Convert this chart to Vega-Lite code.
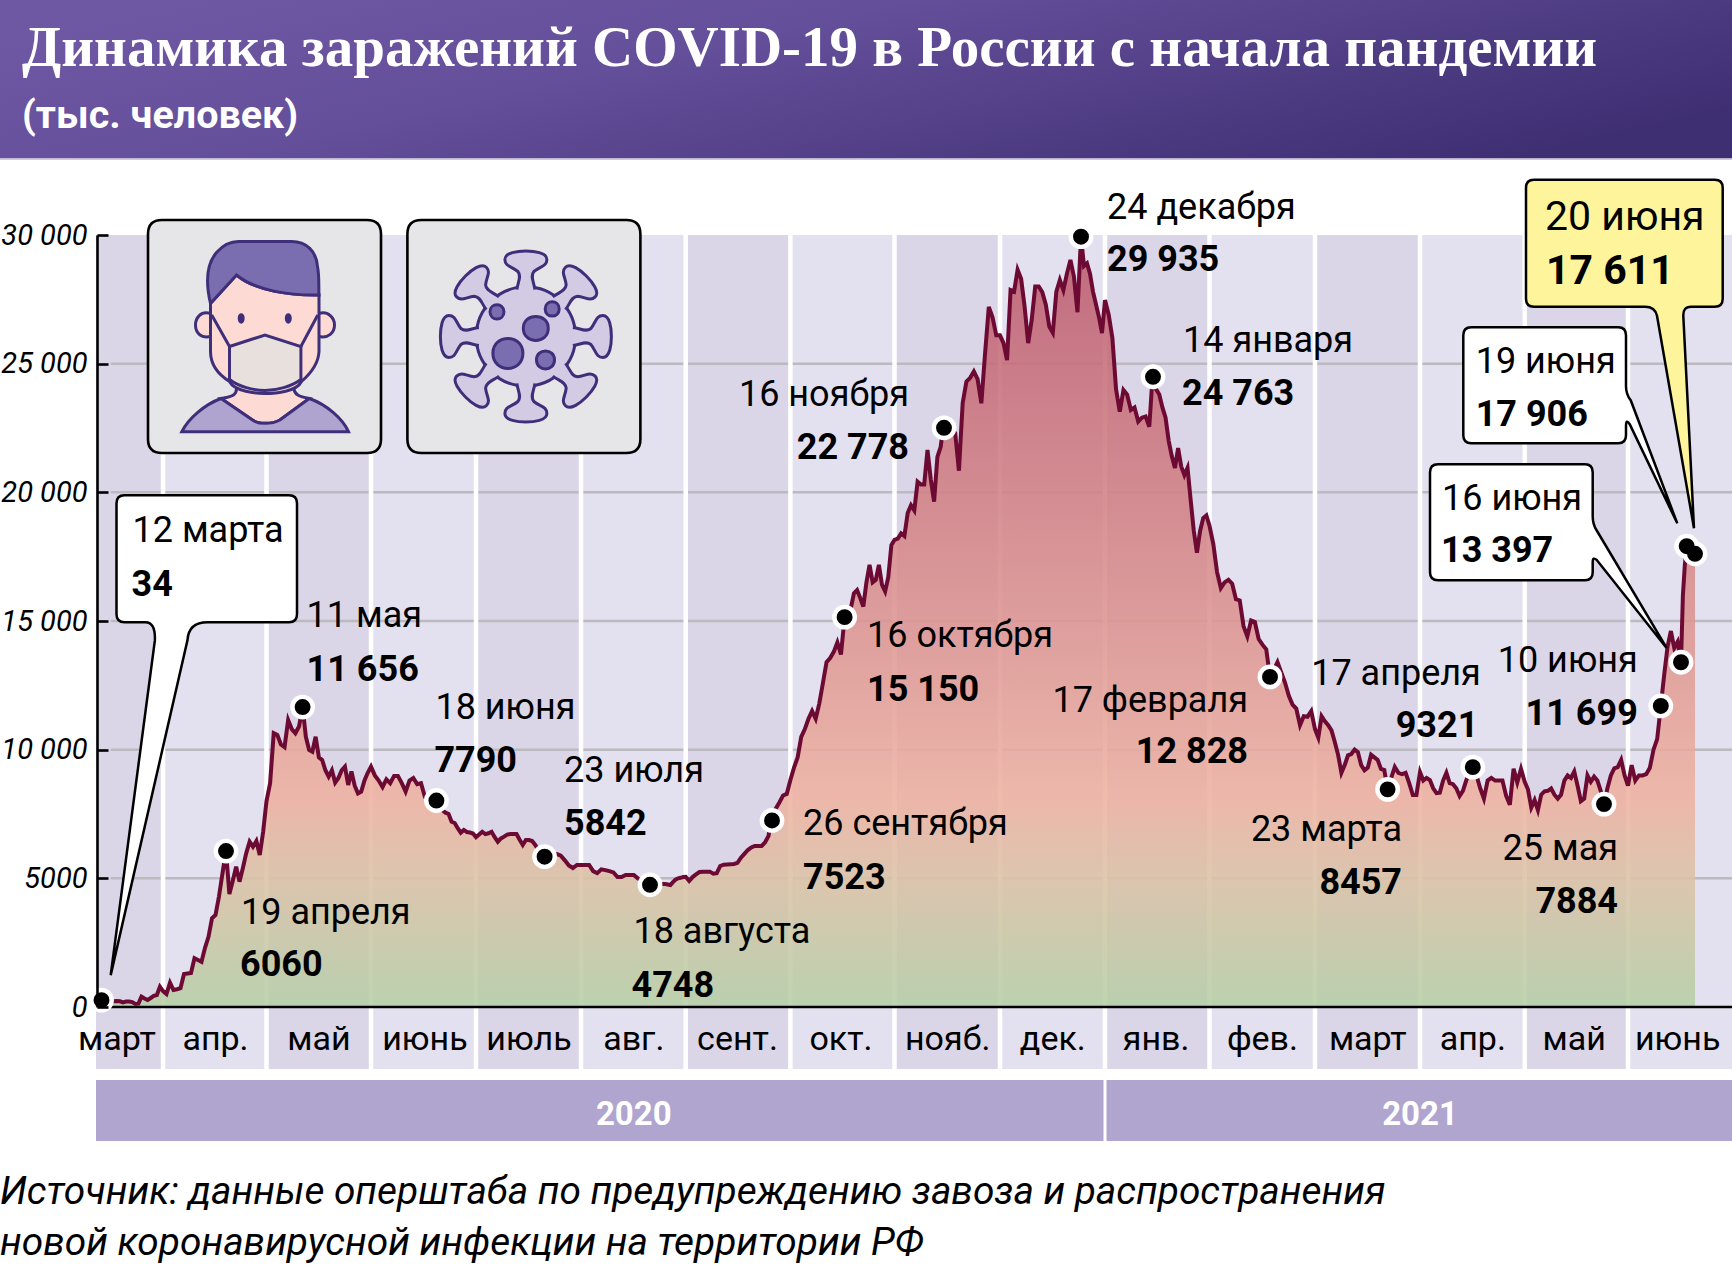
{"$schema":"https://vega.github.io/schema/vega-lite/v6.json","width":1732,"height":1266,"padding":0,"autosize":{"type":"none"},"background":"white",
"data":{"values":[{"decor":1}]},
"config":{"view":{"stroke":null},"axisX":{"disable":true},"text":{"baseline":"alphabetic","align":"left","font":"Roboto","fontSize":36,"color":"black"}},
"datasets":{
"months":[
{"n":0,"start":"2020-03-10","end":"2020-04-01","mid":"2020-03-17","label":"март","tone":"dark"},
{"n":1,"start":"2020-04-01","end":"2020-05-01","mid":"2020-04-16","label":"апр.","tone":"light"},
{"n":2,"start":"2020-05-01","end":"2020-06-01","mid":"2020-05-16","label":"май","tone":"dark"},
{"n":3,"start":"2020-06-01","end":"2020-07-01","mid":"2020-06-15","label":"июнь","tone":"light"},
{"n":4,"start":"2020-07-01","end":"2020-08-01","mid":"2020-07-18","label":"июль","tone":"dark"},
{"n":5,"start":"2020-08-01","end":"2020-09-01","mid":"2020-08-14","label":"авг.","tone":"light"},
{"n":6,"start":"2020-09-01","end":"2020-10-01","mid":"2020-09-16","label":"сент.","tone":"dark"},
{"n":7,"start":"2020-10-01","end":"2020-11-01","mid":"2020-10-15","label":"окт.","tone":"light"},
{"n":8,"start":"2020-11-01","end":"2020-12-01","mid":"2020-11-17","label":"нояб.","tone":"dark"},
{"n":9,"start":"2020-12-01","end":"2021-01-01","mid":"2020-12-16","label":"дек.","tone":"light"},
{"n":10,"start":"2021-01-01","end":"2021-02-01","mid":"2021-01-15","label":"янв.","tone":"dark"},
{"n":11,"start":"2021-02-01","end":"2021-03-01","mid":"2021-02-15","label":"фев.","tone":"light"},
{"n":12,"start":"2021-03-01","end":"2021-04-01","mid":"2021-03-17","label":"март","tone":"dark"},
{"n":13,"start":"2021-04-01","end":"2021-05-01","mid":"2021-04-17","label":"апр.","tone":"light"},
{"n":14,"start":"2021-05-01","end":"2021-06-01","mid":"2021-05-16","label":"май","tone":"dark"},
{"n":15,"start":"2021-06-01","end":"2021-07-01","mid":"2021-06-15","label":"июнь","tone":"light"}],
"years":[{"start":"2020-03-10","end":"2021-01-01","mid":"2020-08-14","label":"2020"},{"start":"2021-01-01","end":"2021-07-01","mid":"2021-04-01","label":"2021"}],
"grid":[{"v":5000},{"v":10000},{"v":15000},{"v":20000},{"v":25000}],
"events":[
{"date":"2020-03-12","label":"12 марта","value":34,"shown":"34"},
{"date":"2020-04-19","label":"19 апреля","value":6060,"shown":"6060"},
{"date":"2020-05-11","label":"11 мая","value":11656,"shown":"11 656"},
{"date":"2020-06-18","label":"18 июня","value":7790,"shown":"7790"},
{"date":"2020-07-23","label":"23 июля","value":5842,"shown":"5842"},
{"date":"2020-08-18","label":"18 августа","value":4748,"shown":"4748"},
{"date":"2020-09-26","label":"26 сентября","value":7523,"shown":"7523"},
{"date":"2020-10-16","label":"16 октября","value":15150,"shown":"15 150"},
{"date":"2020-11-16","label":"16 ноября","value":22778,"shown":"22 778"},
{"date":"2020-12-24","label":"24 декабря","value":29935,"shown":"29 935"},
{"date":"2021-01-14","label":"14 января","value":24763,"shown":"24 763"},
{"date":"2021-02-17","label":"17 февраля","value":12828,"shown":"12 828"},
{"date":"2021-03-23","label":"23 марта","value":8457,"shown":"8457"},
{"date":"2021-04-17","label":"17 апреля","value":9321,"shown":"9321"},
{"date":"2021-05-25","label":"25 мая","value":7884,"shown":"7884"},
{"date":"2021-06-10","label":"10 июня","value":11699,"shown":"11 699"},
{"date":"2021-06-16","label":"16 июня","value":13397,"shown":"13 397"},
{"date":"2021-06-19","label":"19 июня","value":17906,"shown":"17 906"},
{"date":"2021-06-20","label":"20 июня","value":17611,"shown":"17 611"}],
"series":[
{"date":"2020-03-12","cases":34},{"date":"2020-03-13","cases":150},{"date":"2020-03-14","cases":200},{"date":"2020-03-15","cases":210},{"date":"2020-03-16","cases":220},{"date":"2020-03-17","cases":230},{"date":"2020-03-18","cases":220},{"date":"2020-03-19","cases":180},{"date":"2020-03-20","cases":210},{"date":"2020-03-21","cases":215},{"date":"2020-03-22","cases":190},{"date":"2020-03-23","cases":117},{"date":"2020-03-24","cases":130},{"date":"2020-03-25","cases":400},{"date":"2020-03-26","cases":330},{"date":"2020-03-27","cases":270},{"date":"2020-03-28","cases":350},{"date":"2020-03-29","cases":430},{"date":"2020-03-30","cases":466},{"date":"2020-03-31","cases":790},
{"date":"2020-04-01","cases":620},{"date":"2020-04-02","cases":505},{"date":"2020-04-03","cases":945},{"date":"2020-04-04","cases":660},{"date":"2020-04-05","cases":690},{"date":"2020-04-06","cases":730},{"date":"2020-04-07","cases":1280},{"date":"2020-04-08","cases":1300},{"date":"2020-04-09","cases":1320},{"date":"2020-04-10","cases":1900},{"date":"2020-04-11","cases":1830},{"date":"2020-04-12","cases":1760},{"date":"2020-04-13","cases":2300},{"date":"2020-04-14","cases":2730},{"date":"2020-04-15","cases":3450},{"date":"2020-04-16","cases":3575},{"date":"2020-04-17","cases":4300},{"date":"2020-04-18","cases":5200},{"date":"2020-04-19","cases":6060},{"date":"2020-04-20","cases":4390},{"date":"2020-04-21","cases":4900},{"date":"2020-04-22","cases":5450},{"date":"2020-04-23","cases":4870},{"date":"2020-04-24","cases":5400},{"date":"2020-04-25","cases":5980},{"date":"2020-04-26","cases":6425},{"date":"2020-04-27","cases":6230},{"date":"2020-04-28","cases":6450},{"date":"2020-04-29","cases":5910},{"date":"2020-04-30","cases":6800},
{"date":"2020-05-01","cases":8000},{"date":"2020-05-02","cases":8700},{"date":"2020-05-03","cases":10640},{"date":"2020-05-04","cases":10570},{"date":"2020-05-05","cases":10200},{"date":"2020-05-06","cases":10100},{"date":"2020-05-07","cases":11150},{"date":"2020-05-08","cases":10800},{"date":"2020-05-09","cases":10640},{"date":"2020-05-10","cases":10900},{"date":"2020-05-11","cases":11656},{"date":"2020-05-12","cases":10500},{"date":"2020-05-13","cases":9990},{"date":"2020-05-14","cases":9920},{"date":"2020-05-15","cases":10500},{"date":"2020-05-16","cases":9700},{"date":"2020-05-17","cases":9600},{"date":"2020-05-18","cases":9200},{"date":"2020-05-19","cases":8950},{"date":"2020-05-20","cases":9200},{"date":"2020-05-21","cases":8720},{"date":"2020-05-22","cases":8900},{"date":"2020-05-23","cases":9200},{"date":"2020-05-24","cases":9340},{"date":"2020-05-25","cases":8630},{"date":"2020-05-26","cases":9150},{"date":"2020-05-27","cases":8600},{"date":"2020-05-28","cases":8300},{"date":"2020-05-29","cases":8370},{"date":"2020-05-30","cases":8800},{"date":"2020-05-31","cases":9100},
{"date":"2020-06-01","cases":9340},{"date":"2020-06-02","cases":9000},{"date":"2020-06-03","cases":8800},{"date":"2020-06-04","cases":8550},{"date":"2020-06-05","cases":8850},{"date":"2020-06-06","cases":8700},{"date":"2020-06-07","cases":8980},{"date":"2020-06-08","cases":8980},{"date":"2020-06-09","cases":8700},{"date":"2020-06-10","cases":8370},{"date":"2020-06-11","cases":8800},{"date":"2020-06-12","cases":8900},{"date":"2020-06-13","cases":8660},{"date":"2020-06-14","cases":8700},{"date":"2020-06-15","cases":8170},{"date":"2020-06-16","cases":8150},{"date":"2020-06-17","cases":8100},{"date":"2020-06-18","cases":7790},{"date":"2020-06-19","cases":7700},{"date":"2020-06-20","cases":7650},{"date":"2020-06-21","cases":7550},{"date":"2020-06-22","cases":7500},{"date":"2020-06-23","cases":7200},{"date":"2020-06-24","cases":7150},{"date":"2020-06-25","cases":6950},{"date":"2020-06-26","cases":6770},{"date":"2020-06-27","cases":6880},{"date":"2020-06-28","cases":6800},{"date":"2020-06-29","cases":6780},{"date":"2020-06-30","cases":6740},
{"date":"2020-07-01","cases":6600},{"date":"2020-07-02","cases":6700},{"date":"2020-07-03","cases":6810},{"date":"2020-07-04","cases":6720},{"date":"2020-07-05","cases":6750},{"date":"2020-07-06","cases":6810},{"date":"2020-07-07","cases":6600},{"date":"2020-07-08","cases":6420},{"date":"2020-07-09","cases":6550},{"date":"2020-07-10","cases":6620},{"date":"2020-07-11","cases":6700},{"date":"2020-07-12","cases":6720},{"date":"2020-07-13","cases":6720},{"date":"2020-07-14","cases":6720},{"date":"2020-07-15","cases":6500},{"date":"2020-07-16","cases":6295},{"date":"2020-07-17","cases":6490},{"date":"2020-07-18","cases":6490},{"date":"2020-07-19","cases":6450},{"date":"2020-07-20","cases":6300},{"date":"2020-07-21","cases":6100},{"date":"2020-07-22","cases":6000},{"date":"2020-07-23","cases":5842},{"date":"2020-07-24","cases":5900},{"date":"2020-07-25","cases":5950},{"date":"2020-07-26","cases":5950},{"date":"2020-07-27","cases":5880},{"date":"2020-07-28","cases":5700},{"date":"2020-07-29","cases":5500},{"date":"2020-07-30","cases":5400},{"date":"2020-07-31","cases":5520},
{"date":"2020-08-01","cases":5520},{"date":"2020-08-02","cases":5520},{"date":"2020-08-03","cases":5520},{"date":"2020-08-04","cases":5280},{"date":"2020-08-05","cases":5200},{"date":"2020-08-06","cases":5350},{"date":"2020-08-07","cases":5320},{"date":"2020-08-08","cases":5280},{"date":"2020-08-09","cases":5230},{"date":"2020-08-10","cases":5050},{"date":"2020-08-11","cases":5050},{"date":"2020-08-12","cases":5130},{"date":"2020-08-13","cases":5130},{"date":"2020-08-14","cases":5130},{"date":"2020-08-15","cases":5000},{"date":"2020-08-16","cases":4900},{"date":"2020-08-17","cases":4800},{"date":"2020-08-18","cases":4748},{"date":"2020-08-19","cases":4780},{"date":"2020-08-20","cases":4780},{"date":"2020-08-21","cases":4780},{"date":"2020-08-22","cases":4780},{"date":"2020-08-23","cases":4780},{"date":"2020-08-24","cases":4780},{"date":"2020-08-25","cases":4760},{"date":"2020-08-26","cases":4740},{"date":"2020-08-27","cases":4850},{"date":"2020-08-28","cases":4950},{"date":"2020-08-29","cases":5000},{"date":"2020-08-30","cases":5020},{"date":"2020-08-31","cases":5050},
{"date":"2020-09-01","cases":5060},{"date":"2020-09-02","cases":4900},{"date":"2020-09-03","cases":5050},{"date":"2020-09-04","cases":5150},{"date":"2020-09-05","cases":5250},{"date":"2020-09-06","cases":5260},{"date":"2020-09-07","cases":5260},{"date":"2020-09-08","cases":5260},{"date":"2020-09-09","cases":5180},{"date":"2020-09-10","cases":5200},{"date":"2020-09-11","cases":5480},{"date":"2020-09-12","cases":5530},{"date":"2020-09-13","cases":5540},{"date":"2020-09-14","cases":5550},{"date":"2020-09-15","cases":5560},{"date":"2020-09-16","cases":5600},{"date":"2020-09-17","cases":5800},{"date":"2020-09-18","cases":5950},{"date":"2020-09-19","cases":6100},{"date":"2020-09-20","cases":6200},{"date":"2020-09-21","cases":6260},{"date":"2020-09-22","cases":6260},{"date":"2020-09-23","cases":6260},{"date":"2020-09-24","cases":6400},{"date":"2020-09-25","cases":6650},{"date":"2020-09-26","cases":7523},{"date":"2020-09-27","cases":7700},{"date":"2020-09-28","cases":7950},{"date":"2020-09-29","cases":8220},{"date":"2020-09-30","cases":8280},
{"date":"2020-10-01","cases":8820},{"date":"2020-10-02","cases":9300},{"date":"2020-10-03","cases":9700},{"date":"2020-10-04","cases":10500},{"date":"2020-10-05","cases":10800},{"date":"2020-10-06","cases":11200},{"date":"2020-10-07","cases":11500},{"date":"2020-10-08","cases":11200},{"date":"2020-10-09","cases":11800},{"date":"2020-10-10","cases":12590},{"date":"2020-10-11","cases":13400},{"date":"2020-10-12","cases":13560},{"date":"2020-10-13","cases":13800},{"date":"2020-10-14","cases":14170},{"date":"2020-10-15","cases":13700},{"date":"2020-10-16","cases":15150},{"date":"2020-10-17","cases":15100},{"date":"2020-10-18","cases":15500},{"date":"2020-10-19","cases":16080},{"date":"2020-10-20","cases":16200},{"date":"2020-10-21","cases":15900},{"date":"2020-10-22","cases":15560},{"date":"2020-10-23","cases":16500},{"date":"2020-10-24","cases":17180},{"date":"2020-10-25","cases":16500},{"date":"2020-10-26","cases":16600},{"date":"2020-10-27","cases":17180},{"date":"2020-10-28","cases":16400},{"date":"2020-10-29","cases":16150},{"date":"2020-10-30","cases":16700},{"date":"2020-10-31","cases":17950},
{"date":"2020-11-01","cases":18150},{"date":"2020-11-02","cases":18200},{"date":"2020-11-03","cases":18400},{"date":"2020-11-04","cases":18300},{"date":"2020-11-05","cases":19200},{"date":"2020-11-06","cases":19500},{"date":"2020-11-07","cases":19300},{"date":"2020-11-08","cases":20410},{"date":"2020-11-09","cases":20300},{"date":"2020-11-10","cases":20300},{"date":"2020-11-11","cases":21650},{"date":"2020-11-12","cases":20500},{"date":"2020-11-13","cases":19640},{"date":"2020-11-14","cases":21380},{"date":"2020-11-15","cases":21770},{"date":"2020-11-16","cases":22778},{"date":"2020-11-17","cases":22700},{"date":"2020-11-18","cases":22500},{"date":"2020-11-19","cases":22300},{"date":"2020-11-20","cases":20840},{"date":"2020-11-21","cases":23470},{"date":"2020-11-22","cases":24300},{"date":"2020-11-23","cases":24450},{"date":"2020-11-24","cases":24700},{"date":"2020-11-25","cases":24400},{"date":"2020-11-26","cases":23460},{"date":"2020-11-27","cases":25400},{"date":"2020-11-28","cases":27210},{"date":"2020-11-29","cases":26800},{"date":"2020-11-30","cases":26100},
{"date":"2020-12-01","cases":26100},{"date":"2020-12-02","cases":25800},{"date":"2020-12-03","cases":25140},{"date":"2020-12-04","cases":27860},{"date":"2020-12-05","cases":27800},{"date":"2020-12-06","cases":28650},{"date":"2020-12-07","cases":28300},{"date":"2020-12-08","cases":27200},{"date":"2020-12-09","cases":25800},{"date":"2020-12-10","cases":26700},{"date":"2020-12-11","cases":28000},{"date":"2020-12-12","cases":28000},{"date":"2020-12-13","cases":27780},{"date":"2020-12-14","cases":27300},{"date":"2020-12-15","cases":26440},{"date":"2020-12-16","cases":26200},{"date":"2020-12-17","cases":27800},{"date":"2020-12-18","cases":28250},{"date":"2020-12-19","cases":27860},{"date":"2020-12-20","cases":28500},{"date":"2020-12-21","cases":29030},{"date":"2020-12-22","cases":28380},{"date":"2020-12-23","cases":27000},{"date":"2020-12-24","cases":29935},{"date":"2020-12-25","cases":28800},{"date":"2020-12-26","cases":28900},{"date":"2020-12-27","cases":28500},{"date":"2020-12-28","cases":27800},{"date":"2020-12-29","cases":27300},{"date":"2020-12-30","cases":26800},{"date":"2020-12-31","cases":26190},
{"date":"2021-01-01","cases":27470},{"date":"2021-01-02","cases":26900},{"date":"2021-01-03","cases":26000},{"date":"2021-01-04","cases":24000},{"date":"2021-01-05","cases":23130},{"date":"2021-01-06","cases":23980},{"date":"2021-01-07","cases":23800},{"date":"2021-01-08","cases":23200},{"date":"2021-01-09","cases":23300},{"date":"2021-01-10","cases":22750},{"date":"2021-01-11","cases":22900},{"date":"2021-01-12","cases":22950},{"date":"2021-01-13","cases":22550},{"date":"2021-01-14","cases":24763},{"date":"2021-01-15","cases":24000},{"date":"2021-01-16","cases":23800},{"date":"2021-01-17","cases":23300},{"date":"2021-01-18","cases":22900},{"date":"2021-01-19","cases":22000},{"date":"2021-01-20","cases":21400},{"date":"2021-01-21","cases":20950},{"date":"2021-01-22","cases":21720},{"date":"2021-01-23","cases":21000},{"date":"2021-01-24","cases":20670},{"date":"2021-01-25","cases":20950},{"date":"2021-01-26","cases":19700},{"date":"2021-01-27","cases":18500},{"date":"2021-01-28","cases":17650},{"date":"2021-01-29","cases":18500},{"date":"2021-01-30","cases":19000},{"date":"2021-01-31","cases":19100},
{"date":"2021-02-01","cases":18700},{"date":"2021-02-02","cases":18000},{"date":"2021-02-03","cases":16900},{"date":"2021-02-04","cases":16280},{"date":"2021-02-05","cases":16500},{"date":"2021-02-06","cases":16600},{"date":"2021-02-07","cases":16450},{"date":"2021-02-08","cases":15850},{"date":"2021-02-09","cases":15800},{"date":"2021-02-10","cases":14800},{"date":"2021-02-11","cases":14400},{"date":"2021-02-12","cases":15020},{"date":"2021-02-13","cases":14960},{"date":"2021-02-14","cases":14300},{"date":"2021-02-15","cases":14080},{"date":"2021-02-16","cases":13900},{"date":"2021-02-17","cases":12828},{"date":"2021-02-18","cases":13100},{"date":"2021-02-19","cases":13400},{"date":"2021-02-20","cases":13000},{"date":"2021-02-21","cases":12610},{"date":"2021-02-22","cases":12100},{"date":"2021-02-23","cases":11750},{"date":"2021-02-24","cases":11600},{"date":"2021-02-25","cases":10950},{"date":"2021-02-26","cases":11300},{"date":"2021-02-27","cases":11280},{"date":"2021-02-28","cases":11500},
{"date":"2021-03-01","cases":10800},{"date":"2021-03-02","cases":10470},{"date":"2021-03-03","cases":11300},{"date":"2021-03-04","cases":11100},{"date":"2021-03-05","cases":10950},{"date":"2021-03-06","cases":10750},{"date":"2021-03-07","cases":10300},{"date":"2021-03-08","cases":9800},{"date":"2021-03-09","cases":9100},{"date":"2021-03-10","cases":9400},{"date":"2021-03-11","cases":9780},{"date":"2021-03-12","cases":9830},{"date":"2021-03-13","cases":10000},{"date":"2021-03-14","cases":9900},{"date":"2021-03-15","cases":9400},{"date":"2021-03-16","cases":9200},{"date":"2021-03-17","cases":9300},{"date":"2021-03-18","cases":9800},{"date":"2021-03-19","cases":9700},{"date":"2021-03-20","cases":9600},{"date":"2021-03-21","cases":9250},{"date":"2021-03-22","cases":9210},{"date":"2021-03-23","cases":8457},{"date":"2021-03-24","cases":8900},{"date":"2021-03-25","cases":9330},{"date":"2021-03-26","cases":9100},{"date":"2021-03-27","cases":9050},{"date":"2021-03-28","cases":9100},{"date":"2021-03-29","cases":8700},{"date":"2021-03-30","cases":8240},{"date":"2021-03-31","cases":8240},
{"date":"2021-04-01","cases":9130},{"date":"2021-04-02","cases":8800},{"date":"2021-04-03","cases":8900},{"date":"2021-04-04","cases":8820},{"date":"2021-04-05","cases":8500},{"date":"2021-04-06","cases":8310},{"date":"2021-04-07","cases":8330},{"date":"2021-04-08","cases":8800},{"date":"2021-04-09","cases":9100},{"date":"2021-04-10","cases":8700},{"date":"2021-04-11","cases":8660},{"date":"2021-04-12","cases":8500},{"date":"2021-04-13","cases":8200},{"date":"2021-04-14","cases":8400},{"date":"2021-04-15","cases":8800},{"date":"2021-04-16","cases":9100},{"date":"2021-04-17","cases":9321},{"date":"2021-04-18","cases":9000},{"date":"2021-04-19","cases":8500},{"date":"2021-04-20","cases":8100},{"date":"2021-04-21","cases":8800},{"date":"2021-04-22","cases":8900},{"date":"2021-04-23","cases":8800},{"date":"2021-04-24","cases":8800},{"date":"2021-04-25","cases":8800},{"date":"2021-04-26","cases":8200},{"date":"2021-04-27","cases":7860},{"date":"2021-04-28","cases":9260},{"date":"2021-04-29","cases":8730},{"date":"2021-04-30","cases":9250},
{"date":"2021-05-01","cases":8750},{"date":"2021-05-02","cases":8450},{"date":"2021-05-03","cases":7750},{"date":"2021-05-04","cases":8040},{"date":"2021-05-05","cases":7650},{"date":"2021-05-06","cases":8250},{"date":"2021-05-07","cases":8380},{"date":"2021-05-08","cases":8400},{"date":"2021-05-09","cases":8490},{"date":"2021-05-10","cases":8250},{"date":"2021-05-11","cases":8100},{"date":"2021-05-12","cases":8250},{"date":"2021-05-13","cases":8800},{"date":"2021-05-14","cases":9000},{"date":"2021-05-15","cases":8900},{"date":"2021-05-16","cases":9150},{"date":"2021-05-17","cases":8600},{"date":"2021-05-18","cases":8000},{"date":"2021-05-19","cases":8100},{"date":"2021-05-20","cases":9000},{"date":"2021-05-21","cases":8750},{"date":"2021-05-22","cases":8950},{"date":"2021-05-23","cases":8800},{"date":"2021-05-24","cases":8400},{"date":"2021-05-25","cases":7884},{"date":"2021-05-26","cases":8500},{"date":"2021-05-27","cases":9000},{"date":"2021-05-28","cases":9270},{"date":"2021-05-29","cases":9320},{"date":"2021-05-30","cases":9600},{"date":"2021-05-31","cases":9000},
{"date":"2021-06-01","cases":8600},{"date":"2021-06-02","cases":9400},{"date":"2021-06-03","cases":8800},{"date":"2021-06-04","cases":9000},{"date":"2021-06-05","cases":9000},{"date":"2021-06-06","cases":9050},{"date":"2021-06-07","cases":9300},{"date":"2021-06-08","cases":10000},{"date":"2021-06-09","cases":10410},{"date":"2021-06-10","cases":11699},{"date":"2021-06-11","cases":12900},{"date":"2021-06-12","cases":14000},{"date":"2021-06-13","cases":14610},{"date":"2021-06-14","cases":13950},{"date":"2021-06-15","cases":14190},{"date":"2021-06-16","cases":13397},{"date":"2021-06-17","cases":16000},{"date":"2021-06-18","cases":17160},{"date":"2021-06-19","cases":17906},{"date":"2021-06-20","cases":17611}]
},
"layer":[
{"data":{"name":"months"},"mark":{"type":"rect"},"encoding":{
"x":{"field":"start","type":"temporal","scale":{"domainRaw":{"expr":"[toDate('2020-02-01'),toDate('2020-03-10'),toDate('2020-03-12'),toDate('2020-04-01'),toDate('2020-04-19'),toDate('2020-05-01'),toDate('2020-05-11'),toDate('2020-06-01'),toDate('2020-06-18'),toDate('2020-07-01'),toDate('2020-07-23'),toDate('2020-08-01'),toDate('2020-08-18'),toDate('2020-09-01'),toDate('2020-09-26'),toDate('2020-10-01'),toDate('2020-10-16'),toDate('2020-11-01'),toDate('2020-11-16'),toDate('2020-12-01'),toDate('2020-12-24'),toDate('2021-01-01'),toDate('2021-01-14'),toDate('2021-02-01'),toDate('2021-02-17'),toDate('2021-03-01'),toDate('2021-03-23'),toDate('2021-04-01'),toDate('2021-04-17'),toDate('2021-05-01'),toDate('2021-05-25'),toDate('2021-06-01'),toDate('2021-06-10'),toDate('2021-06-16'),toDate('2021-06-19'),toDate('2021-06-20'),toDate('2021-07-01')]"},"range":[0,96,101.5,163,226,266.5,302.6,371,436.4,476,544.6,581,650,685.7,772,790.4,844.6,894.5,944,1000,1081,1105,1153,1209.5,1270,1315,1387.6,1420,1472.8,1524.7,1604,1628,1660.8,1681,1686.7,1695,1733]}},
"x2":{"field":"end"},
"y":{"datum":30000,"type":"quantitative","scale":{"domain":[0,30000],"range":[1007,235],"nice":false,"zero":false},"axis":{"title":null,"orient":"left","offset":-97,"values":[0,5000,10000,15000,20000,25000,30000],"grid":false,"domainColor":"black","domainWidth":2.6,"tickColor":"black","tickWidth":2.6,"tickSize":-11,"labelPadding":21,"labelFont":"Roboto","labelFontStyle":"italic","labelFontSize":29,"labelColor":"black","labelBaseline":"middle","labelExpr":"datum.value>=10000?replace(format(datum.value,','),',',' '):format(datum.value,'d')","zindex":1}},
"y2":{"datum":-2410},
"color":{"field":"tone","type":"nominal","legend":null,"scale":{"domain":["dark","light"],"range":["#dbd5e8","#e3e1ef"]}}}},
{"mark":{"type":"rect","fill":{"x1":0,"y1":0.3,"x2":1,"y2":0.7,"gradient":"linear","stops":[{"offset":0,"color":"#6e57a3"},{"offset":0.35,"color":"#644f9a"},{"offset":1,"color":"#3e2e72"}]}},"encoding":{"x":{"datum":{"year":2020,"month":2,"date":1,"utc":true},"type":"temporal"},"x2":{"datum":{"year":2021,"month":7,"date":1,"utc":true}},"y":{"datum":39133,"type":"quantitative"},"y2":{"datum":32973}}},
{"mark":{"type":"rule","color":"#cfc9e2","strokeWidth":1.5},"encoding":{"x":{"datum":{"year":2020,"month":2,"date":1,"utc":true},"type":"temporal"},"x2":{"datum":{"year":2021,"month":7,"date":1,"utc":true}},"y":{"datum":32940,"type":"quantitative"}}},
{"mark":{"type":"text","text":"Динамика заражений COVID-19 в России с начала пандемии","font":"Liberation Serif","fontWeight":"bold","fontSize":57,"color":"white","dx":22,"dy":-169},"encoding":{"x":{"datum":{"year":2020,"month":2,"date":1,"utc":true},"type":"temporal"},"y":{"datum":30000,"type":"quantitative"}}},
{"mark":{"type":"text","text":"(тыс. человек)","font":"Roboto","fontWeight":"bold","fontSize":39.5,"color":"white","dx":22,"dy":-107},"encoding":{"x":{"datum":{"year":2020,"month":2,"date":1,"utc":true},"type":"temporal"},"y":{"datum":30000,"type":"quantitative"}}},
{"data":{"name":"grid"},"mark":{"type":"rule","color":"#bcbabf","strokeWidth":2.5},"encoding":{"x":{"datum":{"year":2020,"month":3,"date":15,"utc":true},"type":"temporal"},"x2":{"datum":{"year":2021,"month":7,"date":1,"utc":true}},"y":{"field":"v","type":"quantitative"}}},
{"data":{"name":"months"},"transform":[{"filter":"datum.n>0"}],"mark":{"type":"rule","color":"white","strokeWidth":4.5},"encoding":{"x":{"field":"start","type":"temporal"},"y":{"datum":30000,"type":"quantitative"},"y2":{"datum":-2410}}},
{"data":{"name":"months"},"mark":{"type":"text","align":"center","fontSize":34,"dy":43},"encoding":{"x":{"field":"mid","type":"temporal"},"y":{"datum":0,"type":"quantitative"},"text":{"field":"label"}}},
{"data":{"name":"years"},"mark":{"type":"rect","color":"#afa5cf"},"encoding":{"x":{"field":"start","type":"temporal"},"x2":{"field":"end"},"y":{"datum":-2837,"type":"quantitative"},"y2":{"datum":-5207}}},
{"mark":{"type":"rule","color":"white","strokeWidth":3},"encoding":{"x":{"datum":{"year":2021,"month":1,"date":1,"utc":true},"type":"temporal"},"y":{"datum":-2837,"type":"quantitative"},"y2":{"datum":-5207}}},
{"data":{"name":"years"},"mark":{"type":"text","align":"center","fontWeight":"bold","fontSize":33,"color":"white","dy":118},"encoding":{"x":{"field":"mid","type":"temporal"},"y":{"datum":0,"type":"quantitative"},"text":{"field":"label"}}},
{"data":{"name":"series"},"mark":{"type":"area","opacity":0.88,"interpolate":"linear","fill":{"x1":0,"y1":1,"x2":0,"y2":0,"gradient":"linear","stops":[{"offset":0,"color":"#b5cfa6"},{"offset":0.165,"color":"#dbc2a6"},{"offset":0.27,"color":"#eeb2a1"},{"offset":0.48,"color":"#de9793"},{"offset":1,"color":"#bb5a6e"}]}},"encoding":{"x":{"field":"date","type":"temporal"},"y":{"field":"cases","type":"quantitative","stack":false}}},
{"mark":{"type":"rule","color":"black","strokeWidth":2.6},"encoding":{"x":{"datum":{"year":2020,"month":3,"date":10,"utc":true},"type":"temporal"},"x2":{"datum":{"year":2021,"month":7,"date":1,"utc":true}},"y":{"datum":0,"type":"quantitative"}}},
{"data":{"name":"series"},"mark":{"type":"line","color":"#6c0a33","strokeWidth":4,"interpolate":"linear"},"encoding":{"x":{"field":"date","type":"temporal"},"y":{"field":"cases","type":"quantitative"}}},
{"data":{"name":"events"},"encoding":{"x":{"field":"date","type":"temporal"},"y":{"field":"value","type":"quantitative"}},"layer":[
{"transform":[{"filter":"datum.label==='12 марта'"}],"mark":{"type":"point","filled":true,"opacity":1,"size":4,"fill":"white","stroke":"black","strokeWidth":2.5,"shape":"M9.2,-31 L53.4,-366 Q54,-384 44,-384 L23,-384 Q15,-384 15,-392 L15,-503 Q15,-511 23,-511 L187.5,-511 Q195.5,-511 195.5,-503 L195.5,-392 Q195.5,-384 187.5,-384 L106,-384 Q87,-384 86,-366 Z"}},
{"transform":[{"filter":"datum.label==='16 июня'"}],"mark":{"type":"point","filled":true,"opacity":1,"size":4,"fill":"white","stroke":"black","strokeWidth":2.5,"shape":"M-14.4,-14.3 L-84.4,-132 Q-88.3,-138 -88.3,-146 L-88.3,-190 Q-88.3,-198 -96,-198 L-243,-198 Q-251,-198 -251,-190 L-251,-90 Q-251,-82 -243,-82 L-96,-82 Q-88.3,-82 -88.3,-90 L-88.3,-100 Q-88.3,-106 -84,-102 Z"}},
{"transform":[{"filter":"datum.label==='19 июня'"}],"mark":{"type":"point","filled":true,"opacity":1,"size":4,"fill":"white","stroke":"black","strokeWidth":2.5,"shape":"M-9.4,-22.9 L-56,-146 Q-60.7,-152 -60.7,-160 L-60.7,-211 Q-60.7,-219 -68.5,-219 L-215.5,-219 Q-223.4,-219 -223.4,-211 L-223.4,-111 Q-223.4,-103 -215.5,-103 L-68.5,-103 Q-60.7,-103 -60.7,-111 L-60.7,-120 Q-60.7,-128 -57,-122 Z"}},
{"transform":[{"filter":"datum.label==='20 июня'"}],"mark":{"type":"point","filled":true,"opacity":1,"size":4,"fill":"#fdf49c","stroke":"black","strokeWidth":2.5,"shape":"M-1,-25.5 L-38,-238 Q-40,-247 -50,-247 L-161,-247 Q-169,-247 -169,-255 L-169,-366 Q-169,-374 -161,-374 L19.7,-374 Q27.7,-374 27.7,-366 L27.7,-255 Q27.7,-247 19.7,-247 L-4,-247 Q-12,-247 -11.7,-238 Z"}},
{"transform":[{"filter":"indexof(['12 марта','26 сентября','18 июня','16 ноября','14 января'],datum.label)<0"}],"layer":[
{"mark":{"type":"point","filled":true,"opacity":1,"size":616,"color":"white"}},
{"mark":{"type":"point","filled":true,"opacity":1,"size":254,"color":"black"}}]},
{"transform":[{"filter":"datum.label==='12 марта'||datum.label==='18 июня'"}],"encoding":{"yOffset":{"value":-6}},"layer":[
{"mark":{"type":"point","filled":true,"opacity":1,"size":616,"color":"white"}},
{"mark":{"type":"point","filled":true,"opacity":1,"size":254,"color":"black"}}]},
{"transform":[{"filter":"datum.label==='26 сентября'||datum.label==='16 ноября'||datum.label==='14 января'"}],"encoding":{"yOffset":{"value":7}},"layer":[
{"mark":{"type":"point","filled":true,"opacity":1,"size":616,"color":"white"}},
{"mark":{"type":"point","filled":true,"opacity":1,"size":254,"color":"black"}}]},
{"transform":[{"filter":"datum.label==='12 марта'"}],"layer":[{"mark":{"type":"text","dx":31,"dy":-464},"encoding":{"text":{"field":"label"}}},{"mark":{"type":"text","fontWeight":"bold","dx":30,"dy":-410},"encoding":{"text":{"field":"shown"}}}]},
{"transform":[{"filter":"datum.label==='19 апреля'"}],"layer":[{"mark":{"type":"text","dx":15,"dy":73},"encoding":{"text":{"field":"label"}}},{"mark":{"type":"text","fontWeight":"bold","dx":14,"dy":125},"encoding":{"text":{"field":"shown"}}}]},
{"transform":[{"filter":"datum.label==='11 мая'"}],"layer":[{"mark":{"type":"text","dx":4,"dy":-80},"encoding":{"text":{"field":"label"}}},{"mark":{"type":"text","fontWeight":"bold","dx":4,"dy":-26},"encoding":{"text":{"field":"shown"}}}]},
{"transform":[{"filter":"datum.label==='18 июня'"}],"layer":[{"mark":{"type":"text","dx":-1,"dy":-88},"encoding":{"text":{"field":"label"}}},{"mark":{"type":"text","fontWeight":"bold","dx":-2,"dy":-35},"encoding":{"text":{"field":"shown"}}}]},
{"transform":[{"filter":"datum.label==='23 июля'"}],"layer":[{"mark":{"type":"text","dx":19.4,"dy":-74.4},"encoding":{"text":{"field":"label"}}},{"mark":{"type":"text","fontWeight":"bold","dx":19.4,"dy":-22},"encoding":{"text":{"field":"shown"}}}]},
{"transform":[{"filter":"datum.label==='18 августа'"}],"layer":[{"mark":{"type":"text","dx":-16.6,"dy":58},"encoding":{"text":{"field":"label"}}},{"mark":{"type":"text","fontWeight":"bold","dx":-18.5,"dy":112},"encoding":{"text":{"field":"shown"}}}]},
{"transform":[{"filter":"datum.label==='26 сентября'"}],"layer":[{"mark":{"type":"text","dx":31,"dy":22},"encoding":{"text":{"field":"label"}}},{"mark":{"type":"text","fontWeight":"bold","dx":31,"dy":76},"encoding":{"text":{"field":"shown"}}}]},
{"transform":[{"filter":"datum.label==='16 октября'"}],"layer":[{"mark":{"type":"text","dx":22.4,"dy":30},"encoding":{"text":{"field":"label"}}},{"mark":{"type":"text","fontWeight":"bold","dx":22.4,"dy":83.5},"encoding":{"text":{"field":"shown"}}}]},
{"transform":[{"filter":"datum.label==='16 ноября'"}],"layer":[{"mark":{"type":"text","align":"right","dx":-35,"dy":-15},"encoding":{"text":{"field":"label"}}},{"mark":{"type":"text","align":"right","fontWeight":"bold","dx":-35,"dy":38},"encoding":{"text":{"field":"shown"}}}]},
{"transform":[{"filter":"datum.label==='24 декабря'"}],"layer":[{"mark":{"type":"text","dx":26,"dy":-18},"encoding":{"text":{"field":"label"}}},{"mark":{"type":"text","fontWeight":"bold","dx":26,"dy":34},"encoding":{"text":{"field":"shown"}}}]},
{"transform":[{"filter":"datum.label==='14 января'"}],"layer":[{"mark":{"type":"text","dx":30,"dy":-18},"encoding":{"text":{"field":"label"}}},{"mark":{"type":"text","fontWeight":"bold","dx":29,"dy":35},"encoding":{"text":{"field":"shown"}}}]},
{"transform":[{"filter":"datum.label==='17 февраля'"}],"layer":[{"mark":{"type":"text","align":"right","dx":-22,"dy":35},"encoding":{"text":{"field":"label"}}},{"mark":{"type":"text","align":"right","fontWeight":"bold","dx":-22,"dy":86},"encoding":{"text":{"field":"shown"}}}]},
{"transform":[{"filter":"datum.label==='23 марта'"}],"layer":[{"mark":{"type":"text","align":"right","dx":14.4,"dy":52},"encoding":{"text":{"field":"label"}}},{"mark":{"type":"text","align":"right","fontWeight":"bold","dx":14.4,"dy":105},"encoding":{"text":{"field":"shown"}}}]},
{"transform":[{"filter":"datum.label==='17 апреля'"}],"layer":[{"mark":{"type":"text","align":"right","dx":8,"dy":-82},"encoding":{"text":{"field":"label"}}},{"mark":{"type":"text","align":"right","fontWeight":"bold","dx":5.5,"dy":-30},"encoding":{"text":{"field":"shown"}}}]},
{"transform":[{"filter":"datum.label==='25 мая'"}],"layer":[{"mark":{"type":"text","align":"right","dx":14,"dy":55.5},"encoding":{"text":{"field":"label"}}},{"mark":{"type":"text","align":"right","fontWeight":"bold","dx":14,"dy":109},"encoding":{"text":{"field":"shown"}}}]},
{"transform":[{"filter":"datum.label==='10 июня'"}],"layer":[{"mark":{"type":"text","align":"right","dx":-23,"dy":-34},"encoding":{"text":{"field":"label"}}},{"mark":{"type":"text","align":"right","fontWeight":"bold","dx":-23,"dy":19.5},"encoding":{"text":{"field":"shown"}}}]},
{"transform":[{"filter":"datum.label==='16 июня'"}],"layer":[{"mark":{"type":"text","dx":-239,"dy":-152},"encoding":{"text":{"field":"label"}}},{"mark":{"type":"text","fontWeight":"bold","dx":-240,"dy":-100},"encoding":{"text":{"field":"shown"}}}]},
{"transform":[{"filter":"datum.label==='19 июня'"}],"layer":[{"mark":{"type":"text","dx":-211,"dy":-173},"encoding":{"text":{"field":"label"}}},{"mark":{"type":"text","fontWeight":"bold","dx":-211,"dy":-120},"encoding":{"text":{"field":"shown"}}}]},
{"transform":[{"filter":"datum.label==='20 июня'"}],"layer":[{"mark":{"type":"text","fontSize":41,"dx":-150,"dy":-324},"encoding":{"text":{"field":"label"}}},{"mark":{"type":"text","fontSize":41,"fontWeight":"bold","dx":-149,"dy":-270},"encoding":{"text":{"field":"shown"}}}]}
]},
{"encoding":{"x":{"datum":{"year":2020,"month":5,"date":1,"utc":true},"type":"temporal"},"y":{"datum":26056,"type":"quantitative"}},"layer":[
{"mark":{"type":"point","filled":true,"opacity":1,"size":4,"fill":"#e6e6e8","stroke":"black","strokeWidth":2.6,"shape":"M-104.5,-116.5 L100.5,-116.5 Q114.5,-116.5 114.5,-102.5 L114.5,102.5 Q114.5,116.5 100.5,116.5 L-104.5,116.5 Q-118.5,116.5 -118.5,102.5 L-118.5,-102.5 Q-118.5,-116.5 -104.5,-116.5 Z"}},
{"mark":{"type":"point","filled":true,"opacity":1,"size":4,"fill":"#fddad3","stroke":"#3f2f7b","strokeWidth":3,"shape":"M-56,-23 C-66,-26 -71,-18 -71,-11.5 C-71,-4 -66,2 -56,0 M52.5,-23 C62,-26 68,-18 68,-11.5 C68,-4 62,2 52.5,0"}},
{"mark":{"type":"point","filled":true,"opacity":1,"size":4,"fill":"#fddad3","stroke":"#3f2f7b","strokeWidth":3,"shape":"M-30,52 C-30,58 -33,60 -45.5,62 L-14,83.5 C-8,88 5,88 13.4,83.5 L42.8,62 C32,60 28,58 27.3,52 Z"}},
{"mark":{"type":"point","filled":true,"opacity":1,"size":4,"fill":"#aea4cf","stroke":"#3f2f7b","strokeWidth":3,"shape":"M-84.7,95.2 C-78,82 -62,68 -45.5,62 L-14,83.5 C-8,88 5,88 13.4,83.5 L42.8,62 C60,68 76,82 82,95.2 Z"}},
{"mark":{"type":"point","filled":true,"opacity":1,"size":4,"fill":"#fddad3","stroke":"#3f2f7b","strokeWidth":3,"shape":"M-56,-33 L-56,15 C-56,30 -45,40 -37,45 C-32,55 -10,57 -2,57 C10,57 30,55 35,45 C43,38 52,28 52.5,15 L52.5,-41.5 C25,-41 -10,-45 -30,-61.5 Z"}},
{"mark":{"type":"point","filled":true,"opacity":1,"size":4,"fill":"#7a6db0","stroke":"#3f2f7b","strokeWidth":3,"shape":"M-56,-33 C-60,-50 -62,-70 -50,-84 C-43,-92 -36,-95 -28,-95 L25,-95 C40,-95 50,-85 51,-70 C53,-60 52,-50 52.5,-41.5 C25,-41 -10,-45 -30,-61.5 Z"}},
{"mark":{"type":"point","filled":true,"opacity":1,"size":4,"fill":"#e8e0dd","stroke":"#3f2f7b","strokeWidth":3,"shape":"M-37,10 L-1.5,-1.5 L34.4,10 L34.4,43 C25,50 10,54 -1.5,54 C-13,54 -28,50 -37,43 Z"}},
{"mark":{"type":"point","filled":false,"opacity":1,"size":4,"stroke":"#3f2f7b","strokeWidth":3,"shape":"M-54.8,-21.5 L-37,10 M51.3,-21.5 L34.4,10"}},
{"mark":{"type":"point","filled":true,"opacity":1,"size":4,"fill":"#3f2f7b","shape":"M-28.8,-18.2 C-28.8,-25 -21.8,-25 -21.8,-18.2 C-21.8,-11 -28.8,-11 -28.8,-18.2 Z M18.3,-18.2 C18.3,-25 25.3,-25 25.3,-18.2 C25.3,-11 18.3,-11 18.3,-18.2 Z"}}
]},
{"encoding":{"x":{"datum":{"year":2020,"month":7,"date":17,"utc":true},"type":"temporal"},"y":{"datum":26056,"type":"quantitative"}},"layer":[
{"mark":{"type":"point","filled":true,"opacity":1,"size":4,"fill":"#e6e6e8","stroke":"black","strokeWidth":2.6,"shape":"M-104.5,-116.5 L100.5,-116.5 Q114.5,-116.5 114.5,-102.5 L114.5,102.5 Q114.5,116.5 100.5,116.5 L-104.5,116.5 Q-118.5,116.5 -118.5,102.5 L-118.5,-102.5 Q-118.5,-116.5 -104.5,-116.5 Z"}},
{"mark":{"type":"point","filled":true,"opacity":1,"size":9852,"fill":"#d3cbe4","stroke":"#3f2f7b","strokeWidth":3,"shape":"circle"}},
{"mark":{"type":"point","filled":true,"opacity":1,"size":4,"angle":0,"fill":"#d3cbe4","stroke":"#3f2f7b","strokeWidth":3,"shape":"M-9,-47 C-8,-55 -4,-60 -8,-65 C-14,-70 -21,-70 -21,-77 C-21,-84 -8,-85.5 0,-85.5 C8,-85.5 21,-84 21,-77 C21,-70 14,-70 8,-65 C4,-60 8,-55 9,-47"}},
{"mark":{"type":"point","filled":true,"opacity":1,"size":4,"angle":45,"fill":"#d3cbe4","stroke":"#3f2f7b","strokeWidth":3,"shape":"M-9,-47 C-8,-55 -4,-60 -8,-65 C-14,-70 -21,-70 -21,-77 C-21,-84 -8,-85.5 0,-85.5 C8,-85.5 21,-84 21,-77 C21,-70 14,-70 8,-65 C4,-60 8,-55 9,-47"}},
{"mark":{"type":"point","filled":true,"opacity":1,"size":4,"angle":90,"fill":"#d3cbe4","stroke":"#3f2f7b","strokeWidth":3,"shape":"M-9,-47 C-8,-55 -4,-60 -8,-65 C-14,-70 -21,-70 -21,-77 C-21,-84 -8,-85.5 0,-85.5 C8,-85.5 21,-84 21,-77 C21,-70 14,-70 8,-65 C4,-60 8,-55 9,-47"}},
{"mark":{"type":"point","filled":true,"opacity":1,"size":4,"angle":135,"fill":"#d3cbe4","stroke":"#3f2f7b","strokeWidth":3,"shape":"M-9,-47 C-8,-55 -4,-60 -8,-65 C-14,-70 -21,-70 -21,-77 C-21,-84 -8,-85.5 0,-85.5 C8,-85.5 21,-84 21,-77 C21,-70 14,-70 8,-65 C4,-60 8,-55 9,-47"}},
{"mark":{"type":"point","filled":true,"opacity":1,"size":4,"angle":180,"fill":"#d3cbe4","stroke":"#3f2f7b","strokeWidth":3,"shape":"M-9,-47 C-8,-55 -4,-60 -8,-65 C-14,-70 -21,-70 -21,-77 C-21,-84 -8,-85.5 0,-85.5 C8,-85.5 21,-84 21,-77 C21,-70 14,-70 8,-65 C4,-60 8,-55 9,-47"}},
{"mark":{"type":"point","filled":true,"opacity":1,"size":4,"angle":225,"fill":"#d3cbe4","stroke":"#3f2f7b","strokeWidth":3,"shape":"M-9,-47 C-8,-55 -4,-60 -8,-65 C-14,-70 -21,-70 -21,-77 C-21,-84 -8,-85.5 0,-85.5 C8,-85.5 21,-84 21,-77 C21,-70 14,-70 8,-65 C4,-60 8,-55 9,-47"}},
{"mark":{"type":"point","filled":true,"opacity":1,"size":4,"angle":270,"fill":"#d3cbe4","stroke":"#3f2f7b","strokeWidth":3,"shape":"M-9,-47 C-8,-55 -4,-60 -8,-65 C-14,-70 -21,-70 -21,-77 C-21,-84 -8,-85.5 0,-85.5 C8,-85.5 21,-84 21,-77 C21,-70 14,-70 8,-65 C4,-60 8,-55 9,-47"}},
{"mark":{"type":"point","filled":true,"opacity":1,"size":4,"angle":315,"fill":"#d3cbe4","stroke":"#3f2f7b","strokeWidth":3,"shape":"M-9,-47 C-8,-55 -4,-60 -8,-65 C-14,-70 -21,-70 -21,-77 C-21,-84 -8,-85.5 0,-85.5 C8,-85.5 21,-84 21,-77 C21,-70 14,-70 8,-65 C4,-60 8,-55 9,-47"}},
{"mark":{"type":"point","filled":true,"opacity":1,"size":4,"fill":"#7a6db0","stroke":"#3f2f7b","strokeWidth":3,"shape":"M-33,16.8 C-33,-3 -3,-3 -3,16.8 C-3,37 -33,37 -33,16.8 Z M-2.6,-8.2 C-2.6,-24 22.4,-24 22.4,-8.2 C22.4,8 -2.6,8 -2.6,-8.2 Z M-35.9,-24.8 C-35.9,-34 -21.9,-34 -21.9,-24.8 C-21.9,-15 -35.9,-15 -35.9,-24.8 Z M19.3,-27.5 C19.3,-37 33.3,-37 33.3,-27.5 C33.3,-18 19.3,-18 19.3,-27.5 Z M10.6,23.5 C10.6,11.5 28.6,11.5 28.6,23.5 C28.6,35.5 10.6,35.5 10.6,23.5 Z"}}
]},
{"mark":{"type":"text","text":"Источник: данные оперштаба по предупреждению завоза и распространения","font":"Roboto","fontStyle":"italic","fontSize":38.8,"dy":197},"encoding":{"x":{"datum":{"year":2020,"month":2,"date":1,"utc":true},"type":"temporal"},"y":{"datum":0,"type":"quantitative"}}},
{"mark":{"type":"text","text":"новой коронавирусной инфекции на территории РФ","font":"Roboto","fontStyle":"italic","fontSize":38.8,"dy":248},"encoding":{"x":{"datum":{"year":2020,"month":2,"date":1,"utc":true},"type":"temporal"},"y":{"datum":0,"type":"quantitative"}}}
]}
